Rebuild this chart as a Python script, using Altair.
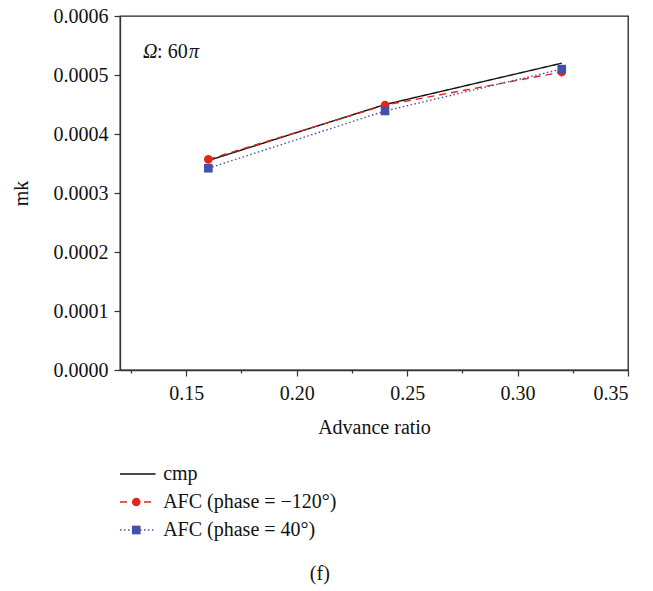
import altair as alt
import pandas as pd

# ---- data ----
advance_ratio = [0.16, 0.24, 0.32]
mk_cmp = [0.000355, 0.000450, 0.000520]
mk_afc_m120 = [0.000357, 0.000449, 0.000505]
mk_afc_40 = [0.000342, 0.000439, 0.000510]

series_names = ["cmp", "AFC (phase = \u2212120\u00b0)", "AFC (phase = 40\u00b0)"]
series_colors = ["#111111", "#e2261d", "#4650a8"]
series_dash = [[1, 0], [7, 5], [1.5, 2.5]]
series_shapes = ["circle", "circle", "square"]

x_ticks = [0.125, 0.15, 0.175, 0.20, 0.225, 0.25, 0.275, 0.30, 0.325, 0.35]
y_ticks = [0.0, 0.00005, 0.0001, 0.00015, 0.0002, 0.00025, 0.0003,
           0.00035, 0.0004, 0.00045, 0.0005, 0.00055, 0.0006]

ann_text = ["\u03a9", ": 60", "\u03c0"]
ann_x = [0.1304, 0.1368, 0.1512]
ann_y = [0.000529, 0.000529, 0.000529]
ann_italic = [True, False, True]

FONT = "Liberation Serif"
FS = 20

rows = []
for name, ys in zip(series_names, [mk_cmp, mk_afc_m120, mk_afc_40]):
    for xv, yv in zip(advance_ratio, ys):
        rows.append({"series": name, "x": xv, "y": yv})
df = pd.DataFrame(rows)
ann = pd.DataFrame({"t": ann_text, "x": ann_x, "y": ann_y, "it": ann_italic})

color_scale = alt.Scale(domain=series_names, range=series_colors)
dash_scale = alt.Scale(domain=series_names, range=series_dash)
shape_scale = alt.Scale(domain=series_names, range=series_shapes)

x_scale = alt.Scale(domain=[0.12, 0.35], nice=False, zero=False)
y_scale = alt.Scale(domain=[0, 0.0006], nice=False)

x_axis = alt.Axis(
    values=x_ticks,
    labelExpr="round(datum.value*40) % 2 == 0 ? format(datum.value, '.2f') : ''",
    tickSize={"condition": {"test": "round(datum.value*40) % 2 == 1", "value": 3}, "value": 6},
    grid=False, domainColor="#333333", tickColor="#333333", domainWidth=1.3, tickWidth=1.2,
    labelFont=FONT, labelFontSize=FS, labelColor="#111111", labelPadding=7,
    title="Advance ratio", titleFont=FONT, titleFontSize=FS, titleFontWeight="normal",
    titleColor="#111111", titlePadding=14,
)
y_axis = alt.Axis(
    values=y_ticks,
    labelExpr="round(datum.value*20000) % 2 == 0 ? format(datum.value, '.4f') : ''",
    tickSize={"condition": {"test": "round(datum.value*20000) % 2 == 1", "value": 3}, "value": 6},
    grid=False, domainColor="#333333", tickColor="#333333", domainWidth=1.3, tickWidth=1.2,
    labelFont=FONT, labelFontSize=FS, labelColor="#111111", labelPadding=6,
    title="mk", titleFont=FONT, titleFontSize=FS, titleFontWeight="normal",
    titleColor="#111111", titlePadding=22,
)

base = alt.Chart(df)
lines = base.mark_line(strokeWidth=1.4).encode(
    x=alt.X("x:Q", scale=x_scale, axis=x_axis),
    y=alt.Y("y:Q", scale=y_scale, axis=y_axis),
    color=alt.Color("series:N", scale=color_scale, legend=None),
    strokeDash=alt.StrokeDash("series:N", scale=dash_scale, legend=None),
    detail="series:N",
)
points = base.transform_filter(alt.datum.series != series_names[0]).mark_point(
    filled=True, size=75, opacity=1
).encode(
    x="x:Q",
    y="y:Q",
    color=alt.Color("series:N", scale=color_scale, legend=None),
    shape=alt.Shape("series:N", scale=shape_scale, legend=None),
)
ann_it = alt.Chart(ann).transform_filter("datum.it").mark_text(
    font=FONT, fontSize=FS, fontStyle="italic", align="left", baseline="alphabetic", color="#111111"
).encode(x="x:Q", y="y:Q", text="t:N")
ann_rm = alt.Chart(ann).transform_filter("!datum.it").mark_text(
    font=FONT, fontSize=FS, align="left", baseline="alphabetic", color="#111111"
).encode(x="x:Q", y="y:Q", text="t:N")

main = alt.layer(lines, points, ann_it, ann_rm).properties(
    width=508, height=354,
    view=alt.ViewBackground(stroke="#222222", strokeWidth=1.3),
)

# ---- legend panel ----
leg = pd.DataFrame({
    "series": series_names,
    "x0": [0.0] * 3,
    "x1": [0.7] * 3,
    "xp": [0.32] * 3,
    "xt": [0.85] * 3,
    "haspt": [False, True, True],
})
lx = alt.Scale(domain=[0, 10], nice=False)
ly = alt.Scale(domain=series_names, paddingInner=0, paddingOuter=0)
lbase = alt.Chart(leg)
leg_lines = lbase.mark_rule(strokeWidth=1.4).encode(
    x=alt.X("x0:Q", scale=lx, axis=None),
    x2="x1:Q",
    y=alt.Y("series:N", scale=ly, axis=None, sort=series_names),
    color=alt.Color("series:N", scale=color_scale, legend=None),
    strokeDash=alt.StrokeDash("series:N", scale=dash_scale, legend=None),
)
leg_pts = lbase.transform_filter("datum.haspt").mark_point(filled=True, size=75, opacity=1).encode(
    x=alt.X("xp:Q", scale=lx, axis=None),
    y=alt.Y("series:N", scale=ly, axis=None, sort=series_names),
    color=alt.Color("series:N", scale=color_scale, legend=None),
    shape=alt.Shape("series:N", scale=shape_scale, legend=None),
)
leg_txt = lbase.mark_text(font=FONT, fontSize=FS, align="left", baseline="middle", color="#111111").encode(
    x=alt.X("xt:Q", scale=lx, axis=None),
    y=alt.Y("series:N", scale=ly, axis=None, sort=series_names),
    text="series:N",
)
legend_panel = alt.layer(leg_lines, leg_pts, leg_txt).properties(
    width=508, height=84,
    view=alt.ViewBackground(stroke=None),
)

chart = alt.vconcat(main, legend_panel, spacing=22).properties(
    title=alt.TitleParams("(f)", orient="bottom", anchor="middle", font=FONT, fontSize=FS,
                          fontWeight="normal", color="#111111", offset=20),
    padding={"left": 10, "top": 5, "right": 20, "bottom": 5},
    background="white",
).configure_view(stroke=None)

chart.save("out.html", embed_options={"renderer": "svg", "actions": False})
